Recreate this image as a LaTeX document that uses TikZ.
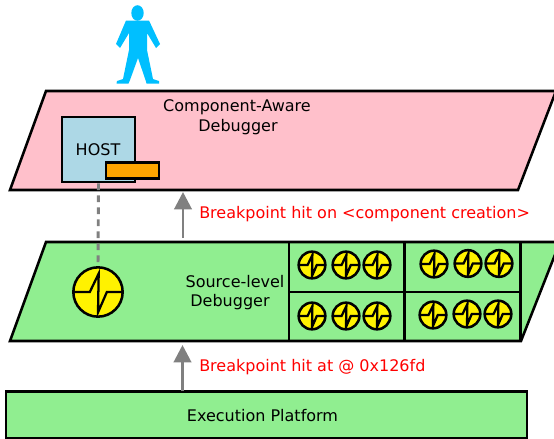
\documentclass[tikz,border=0pt]{standalone}
\usepackage{fontspec}
\setmainfont{DejaVu Sans}
\usetikzlibrary{arrows.meta}
\definecolor{layerpink}{HTML}{FFC0CB}
\definecolor{layergreen}{HTML}{90EE90}
\definecolor{hostblue}{HTML}{ADD8E6}
\definecolor{personblue}{HTML}{00BFFF}
\definecolor{slotorange}{HTML}{FFA500}
\tikzset{
    layer/.style = {draw, line width=1.9pt, line join=miter},
    label/.style = {inner sep=0pt, font=\fontsize{12}{14}\selectfont},
    hit/.style = {label, text=red, anchor=west},
    uparrow/.style = {draw=gray, line width=2.2pt, -{Triangle[length=13pt,width=13pt]}},
    probe/.style = {circle, draw, fill=yellow, line width=1.9pt, minimum size=#1, inner sep=0pt,
        path picture={
            \draw [line width=1.7pt, line join=miter, x=#1, y=#1, shift={(path picture bounding box.center)}]
                (-.5,0) -- (-.166,0) -- (.014,.374) -- (0,-.414) -- (.18,0) -- (.5,0);
        }},
}
\begin{document}
\begin{tikzpicture}[x=.75pt, y=-.75pt]
    \useasboundingbox (0,0) rectangle (554,439);
    \clip (0,0) rectangle (554,439);
    % person
    \fill [personblue] (137.5,13) ellipse [x radius=6.2, y radius=7.8];
    \fill [personblue] (126,20.5) -- (149,20.5) -- (160,44) -- (156,48) -- (147,33) -- (147,50)
        -- (153,79) -- (159,81) -- (159,83.5) -- (146.5,83.5) -- (145.5,80) -- (138,58) -- (130,80) -- (128.5,83.5) -- (116.5,83.5)
        -- (117,81) -- (123,79) -- (129,50) -- (129,33) -- (120,48) -- (116,44) -- cycle;
    % top layer
    \draw [layer, fill=layerpink] (46,91) -- (556,91) -- (518,190) -- (10,190) -- cycle;
    \node [label] (aware) at (237,107) {Component-Aware};
    \node [label] (awaredbg) at (238,127) {Debugger};
    \node [draw, line width=1.9pt, fill=hostblue, minimum width=55pt, minimum height=49pt, inner sep=0pt] (host) at (98.5,149.5) {};
    \node [label] (hostlabel) at (98,149.5) {HOST};
    \node [draw, line width=1.9pt, fill=slotorange, minimum width=40pt, minimum height=12pt, inner sep=0pt] (slot) at (132.5,170.5) {};
    % middle layer
    \draw [layer, fill=layergreen] (46,242) -- (560,242) -- (521,341) -- (10,341) -- cycle;
    \draw [layer] (289,242) rectangle (520.5,341);
    \draw [layer] (404.5,242) -- (404.5,341);
    \draw [layer] (289,292) -- (520.5,292);
    \node [label] (source) at (235,282) {Source-level};
    \node [label] (sourcedbg) at (230,302) {Debugger};
    \node [probe=37pt] (bigprobe) at (98,292) {};
    \draw [draw=gray, line width=2.2pt, dash pattern=on 5pt off 4pt] (host.south) -- (bigprobe.north);
    \foreach \px/\py in {312/265, 346/265, 377/265, 434/264, 468/263.5, 499/263.5,
                         312/316, 346/316, 377/316, 433/315, 467/314, 498/314}
        \node [probe=20pt] (probe-\px-\py) at (\px,\py) {};
    % bottom layer
    \draw [layer, fill=layergreen] (6,391.5) rectangle (527,438.5);
    \node [label] (platform) at (262.5,416) {Execution Platform};
    % arrows
    \coordinate (hitA) at (183,238);
    \coordinate (hitB) at (183,192);
    \draw [uparrow] (hitA) -- (hitB);
    \coordinate (hitC) at (182.5,391);
    \coordinate (hitD) at (182.5,345);
    \draw [uparrow] (hitC) -- (hitD);
    \node [hit] (hitone) at (199,214.5) {Breakpoint hit on <component creation>};
    \node [hit] (hittwo) at (199,367) {Breakpoint hit at @ 0x126fd};
\end{tikzpicture}
\end{document}
